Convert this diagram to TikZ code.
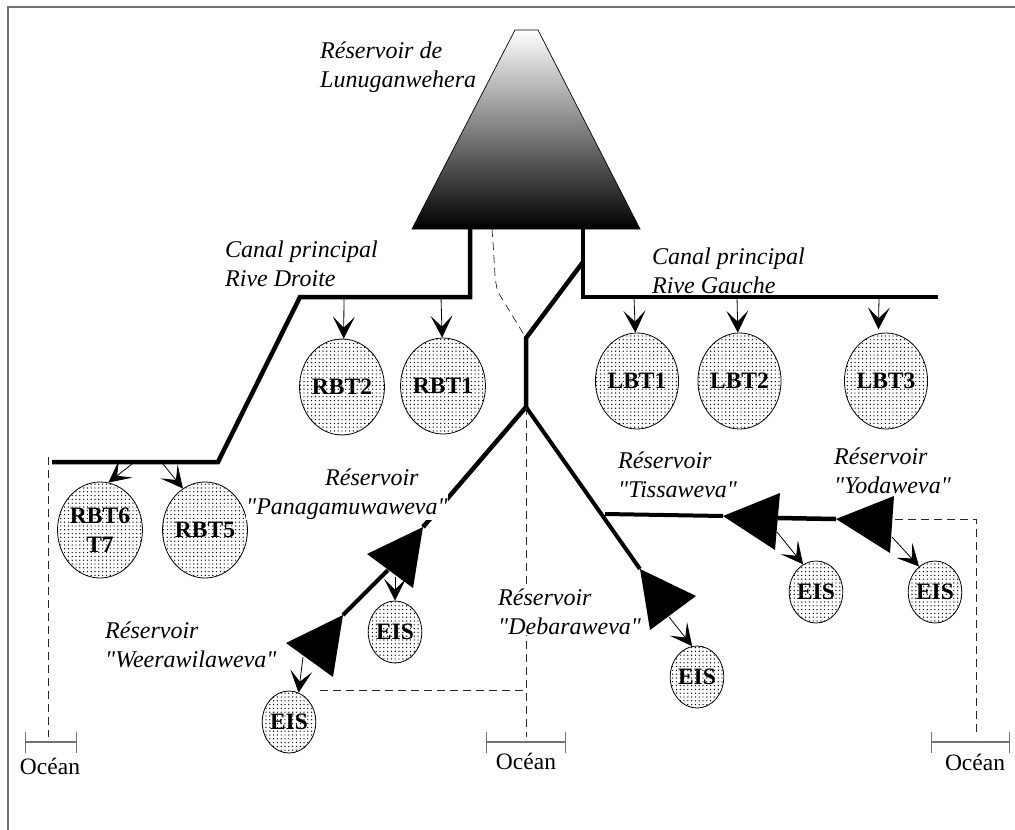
\documentclass[tikz,border=0pt]{standalone}
\usepackage{fontspec}
\setmainfont{Liberation Serif}[Ligatures=TeXOff]
\usetikzlibrary{arrows.meta,shapes.geometric,patterns.meta}
\tikzset{
  canal/.style={line width=4.5pt,line join=miter},
  leak/.style={dashed,dash pattern=on 8pt off 5pt,line width=.7pt,black!85},
  feed/.style={line width=.8pt,-{Stealth[length=22pt,width=22pt,inset=11pt]}},
  parcel/.style={ellipse,draw,line width=.8pt,inner sep=0pt,align=center,
    minimum width=74pt,minimum height=96pt,
    font=\fontsize{23.5}{29}\selectfont\bfseries,
    pattern={Dots[distance=3.8pt,radius=.7pt]}},
  eis/.style={parcel,minimum width=50pt,minimum height=62pt},
  tag/.style={anchor=north west,inner sep=0pt,align=left,
    font=\fontsize{24}{29}\selectfont\itshape},
  oceanbar/.style={line width=1.1pt,black!55,{Bar[width=21pt]}-{Bar[width=21pt]}},
  oceantag/.style={inner sep=0pt,anchor=base,font=\fontsize{23.5}{28}\selectfont}
}
\begin{document}
\begin{tikzpicture}[x=1pt,y=-1pt]
  \useasboundingbox (0,0) rectangle (1015,830);
  % frame
  \draw[line width=1.6pt,black!55] (8,830) -- (8,7) -- (1015,7);
  % reservoir
  \shade[top color=white,bottom color=black] (515,30) -- (538,30) -- (640,229) -- (412,229) -- cycle;
  \draw[line width=.7pt] (515,30) -- (538,30) -- (640,229) -- (412,229) -- cycle;
  % junctions
  \coordinate (split) at (583,262);
  \coordinate (neck) at (526,338);
  \coordinate (fork) at (526,407);
  \coordinate (pana) at (423,527);
  \coordinate (weera) at (343,615);
  \coordinate (deba) at (640,569);
  \coordinate (tissa) at (723,516);
  \coordinate (yoda) at (836,519);
  % parcels
  \node[parcel] (RBT1) at (443,386) {RBT1};
  \node[parcel] (RBT2) at (342,387) {RBT2};
  \node[parcel] (LBT1) at (637,381) {LBT1};
  \node[parcel] (LBT2) at (739.5,381) {LBT2};
  \node[parcel] (LBT3) at (886,381) {LBT3};
  \node[parcel] (RBT5) at (205,530) {RBT5};
  \node[parcel] (RBT6) at (100,530) {RBT6\\T7};
  \node[eis] (EISpana) at (395,632) {EIS};
  \node[eis] (EISweera) at (289,722) {EIS};
  \node[eis] (EISdeba) at (697,677) {EIS};
  \node[eis] (EIStissa) at (816,592) {EIS};
  \node[eis] (EISyoda) at (935,592) {EIS};
  % canals
  \draw[canal] (470,229) -- (470,297) -- (300,297) -- (218,462) -- (52,462);
  \draw[canal] (583,229) -- (583,297) -- (938,297);
  \draw[canal] (split) -- (neck) -- (fork) -- (pana);
  \draw[canal,line width=4pt] (388,570) -- (weera);
  \draw[canal,line width=4pt] (fork) -- (deba);
  \draw[canal,line width=4pt] (605,514) -- (tissa);
  \draw[canal] (778,518) -- (yoda);
  % offtakes
  \draw[feed] (344,297) -- (RBT2.88);
  \draw[feed] (441,297) -- (RBT1.91);
  \draw[feed] (634,297) -- (LBT1.92);
  \draw[feed] (737,297) -- (LBT2.92);
  \draw[feed] (879,297) -- ([yshift=4pt]LBT3.99);
  \draw[feed] (132,464) -- (RBT6.80);
  \draw[feed] (163,464) -- (RBT5.118);
  \draw[feed] (395,577) -- (EISpana.north);
  \draw[feed] (303,657) -- (EISweera.72);
  \draw[feed] (669,617) -- (EISdeba.99);
  \draw[feed] (777,532) -- (EIStissa.115);
  \draw[feed] (892,537) -- (EISyoda.122);
  % drains
  \draw[leak] (492,229) .. controls (495,265) and (494,280) .. (498,292) -- (neck);
  \draw[leak] (48,457) -- (48,737);
  \draw[leak] (fork) -- (526,737);
  \draw[leak] (320,690) -- (526,690);
  \draw[leak] (895,519) -- (976,519) -- (976,737);
  % ocean
  \draw[oceanbar] (25,742) -- (77,742);
  \draw[oceanbar] (486,742) -- (566,742);
  \draw[oceanbar] (931,742) -- (1010,742);
  \node[oceantag] (oceanL) at (50,774) {Océan};
  \node[oceantag] (oceanM) at (526,769) {Océan};
  \node[oceantag] (oceanR) at (975,770) {Océan};
  % labels
  \node[tag] (main) at (320,42) {Réservoir de\\Lunuganwehera};
  \node[tag] (rd) at (225,241) {Canal principal\\Rive Droite};
  \node[tag] (rg) at (652,248) {Canal principal\\Rive Gauche};
  \node[tag,fill=white] (lpana) at (246,469) {\hspace*{79pt}Réservoir\\"Panagamuwaweva"};
  \node[tag] (lweera) at (105,622) {Réservoir\\"Weerawilaweva"};
  \node[tag,fill=white] (ldeba) at (498,589) {Réservoir\\"Debaraweva"};
  \node[tag] (ltissa) at (618,452) {Réservoir\\"Tissaweva"};
  \node[tag] (lyoda) at (834,448) {Réservoir\\"Yodaweva"};
  % small reservoirs
  \fill (pana) -- ++(-56,27) -- ++(46,34) -- cycle;
  \fill (weera) -- ++(-57,28) -- ++(47,34) -- cycle;
  \fill (deba) -- ++(56,27) -- ++(-46,34) -- cycle;
  \fill (tissa) -- ++(57,-23) -- ++(-5,57) -- cycle;
  \fill (yoda) -- ++(58,-23) -- ++(-4,57) -- cycle;
\end{tikzpicture}
\end{document}
